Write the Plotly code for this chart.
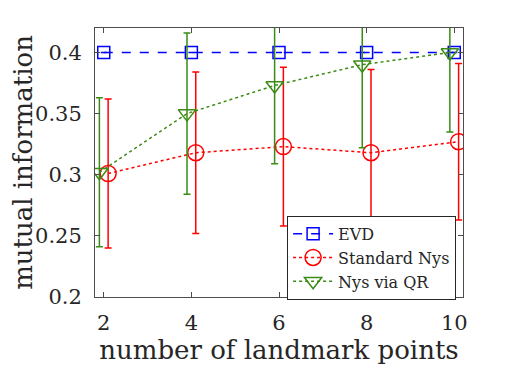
import plotly.graph_objects as go

landmarks = [2, 4, 6, 8, 10]

evd_mean = [0.400, 0.400, 0.400, 0.400, 0.400]
evd_err = [0.0, 0.0, 0.0, 0.0, 0.0]

std_mean = [0.301, 0.318, 0.323, 0.318, 0.327]
std_err = [0.061, 0.066, 0.065, 0.068, 0.064]

qr_mean = [0.302, 0.350, 0.373, 0.390, 0.400]
qr_err = [0.061, 0.066, 0.064, 0.068, 0.065]

font = "DejaVu Serif"

fig = go.Figure()

fig.add_trace(go.Scatter(
    x=landmarks, y=evd_mean, name="EVD", mode="lines+markers",
    line=dict(color="#0000ff", width=1.5, dash="dash"),
    marker=dict(symbol="square-open", size=12, color="#0000ff", line=dict(width=1.5)),
    error_y=dict(type="data", array=evd_err, color="#0000ff", thickness=1.5, width=3),
))

fig.add_trace(go.Scatter(
    x=[v + 0.1 for v in landmarks], y=std_mean, name="Standard Nys", mode="lines+markers",
    line=dict(color="#ff0000", width=1.5, dash="dot"),
    marker=dict(symbol="circle-open", size=16, color="#ff0000", line=dict(width=1.5)),
    error_y=dict(type="data", array=std_err, color="#ff0000", thickness=1.5, width=3.5),
))

fig.add_trace(go.Scatter(
    x=[v - 0.1 for v in landmarks], y=qr_mean, name="Nys via QR", mode="lines+markers",
    line=dict(color="#3a8c14", width=1.5, dash="dot"),
    marker=dict(symbol="triangle-down-open", size=15, color="#3a8c14", line=dict(width=1.5)),
    error_y=dict(type="data", array=qr_err, color="#3a8c14", thickness=1.5, width=3.5),
))

axis_style = dict(
    showline=True, linecolor="#4d4d4d", linewidth=1, mirror="ticks",
    ticks="inside", ticklen=5, tickcolor="#4d4d4d", showgrid=False, zeroline=False,
    tickfont=dict(family=font, size=21, color="#262626"), automargin=False,
)

fig.update_layout(
    width=496, height=357,
    margin=dict(l=87, r=41, t=20, b=68),
    paper_bgcolor="white", plot_bgcolor="white",
    font=dict(family=font, color="#262626"),
    xaxis=dict(range=[1.8, 10.2], tickvals=landmarks, ticklabelstandoff=7,
               title=dict(text="number of landmark points", font=dict(family=font, size=26), standoff=8),
               **axis_style),
    yaxis=dict(range=[0.2, 0.42], tickvals=[0.2, 0.25, 0.3, 0.35, 0.4],
               ticktext=["0.2", "0.25", "0.3", "0.35", "0.4"], ticklabelstandoff=8,
               title=dict(text="mutual information", font=dict(family=font, size=26), standoff=13),
               **axis_style),
    legend=dict(x=0.522, y=0.302, xanchor="left", yanchor="top",
                bgcolor="white", bordercolor="#262626", borderwidth=1,
                font=dict(family=font, size=16), tracegroupgap=0, itemwidth=40),
    showlegend=True,
)

fig.write_html("out.html")
